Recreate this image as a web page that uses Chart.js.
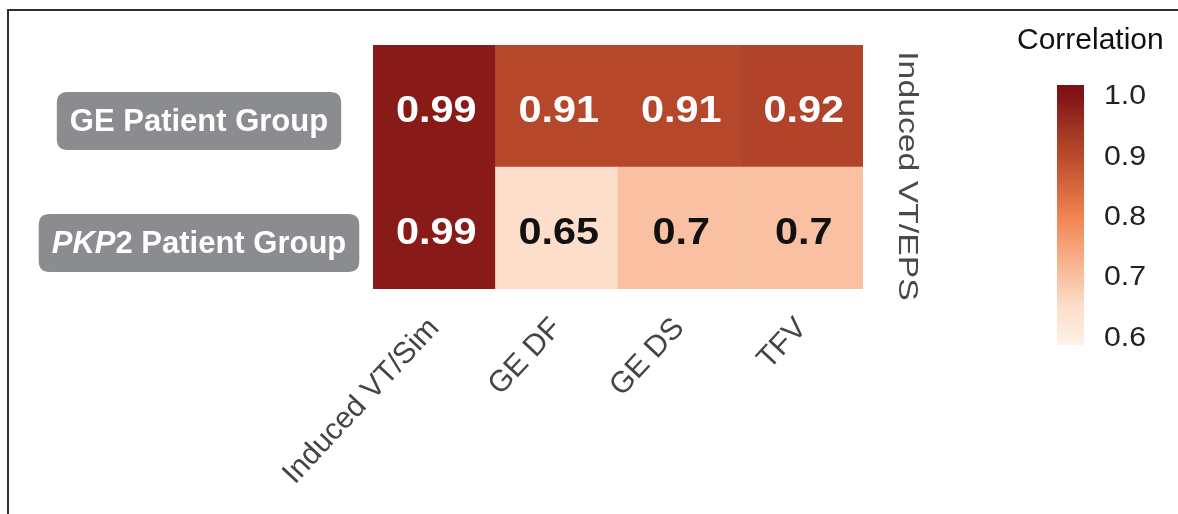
<!DOCTYPE html>
<html>
<head>
<meta charset="utf-8">
<script src="https://cdn.jsdelivr.net/npm/chart.js@4.4.1/dist/chart.umd.min.js"></script>
<style>
  html, body { margin: 0; padding: 0; background: #ffffff; }
  #wrap { position: relative; width: 1178px; height: 514px; }
  canvas { display: block; }
</style>
</head>
<body>
<div id="wrap"><canvas id="c" width="1178" height="514"></canvas></div>
<script>
// ---------- DATA ----------
const categories = ['Induced VT/Sim', 'GE DF', 'GE DS', 'TFV'];
const groups = ['GE Patient Group', 'PKP2 Patient Group'];
const geValues = [0.99, 0.91, 0.91, 0.92];
const pkp2Values = [0.99, 0.65, 0.7, 0.7];
const legendTicks = [0.6, 0.7, 0.8, 0.9, 1.0];
const legendTitle = 'Correlation';
const rightAxisLabel = 'Induced VT/EPS';

// ---------- STYLE ----------
const FONT = "'Liberation Sans', Arial, Helvetica, sans-serif";
const colorStops = [
  [0.585, [254, 243, 234]],
  [0.60,  [253, 237, 225]],
  [0.65,  [252, 222, 202]],
  [0.70,  [249, 193, 162]],
  [0.80,  [241, 131, 80]],
  [0.90,  [186, 74, 43]],
  [0.92,  [176, 67, 41]],
  [1.00,  [130, 20, 22]],
  [1.02,  [122, 17, 20]]
];
function colorFor(v) {
  if (v <= colorStops[0][0]) return 'rgb(' + colorStops[0][1].join(',') + ')';
  for (let i = 1; i < colorStops.length; i++) {
    const [v1, c1] = colorStops[i];
    const [v0, c0] = colorStops[i - 1];
    if (v <= v1) {
      const t = (v - v0) / (v1 - v0);
      const c = c0.map((a, k) => Math.round(a + (c1[k] - a) * t));
      return 'rgb(' + c.join(',') + ')';
    }
  }
  return 'rgb(' + colorStops[colorStops.length - 1][1].join(',') + ')';
}

function drawText(ctx, s, x, y, font, color, align, sx, baseline) {
  ctx.save();
  ctx.translate(x, y);
  ctx.scale(sx || 1, 1);
  ctx.font = font;
  ctx.fillStyle = color;
  ctx.textAlign = align || 'center';
  ctx.textBaseline = baseline || 'middle';
  ctx.fillText(s, 0, 0);
  ctx.restore();
}

function roundRect(ctx, x, y, w, h, r) {
  ctx.beginPath();
  ctx.moveTo(x + r, y);
  ctx.lineTo(x + w - r, y);
  ctx.quadraticCurveTo(x + w, y, x + w, y + r);
  ctx.lineTo(x + w, y + h - r);
  ctx.quadraticCurveTo(x + w, y + h, x + w - r, y + h);
  ctx.lineTo(x + r, y + h);
  ctx.quadraticCurveTo(x, y + h, x, y + h - r);
  ctx.lineTo(x, y + r);
  ctx.quadraticCurveTo(x, y, x + r, y);
  ctx.closePath();
}

const decorPlugin = {
  id: 'decor',
  afterDatasetsDraw(chart) {
    const ctx = chart.ctx;
    chart.data.datasets.forEach((ds, di) => {
      const meta = chart.getDatasetMeta(di);
      meta.data.forEach((el, i) => {
        const v = ds.values[i];
        const cy = (el.y + el.base) / 2 + 6;
        drawText(ctx, String(v), el.x + 2, cy, 'bold 37px ' + FONT,
          v > 0.8 ? '#ffffff' : '#111111', 'center', 1.12);
      });
    });
  },
  afterDraw(chart) {
    const ctx = chart.ctx;
    const area = chart.chartArea;
    const yScale = chart.scales.y;

    // row labels (grey rounded boxes)
    const rows = [
      { parts: [['GE', false], [' Patient Group', false]], center: 1.5 },
      { parts: [['PKP', true], ['2 Patient Group', false]], center: 0.5 }
    ];
    const rowFont = 31;
    rows.forEach((r) => {
      const cy = yScale.getPixelForValue(r.center) + 15;
      ctx.save();
      let w = 0;
      r.parts.forEach(([s, it]) => {
        ctx.font = (it ? 'italic ' : '') + 'bold ' + rowFont + 'px ' + FONT;
        w += ctx.measureText(s).width;
      });
      const boxW = w + 26, boxH = 58;
      const cx = 199;
      roundRect(ctx, cx - boxW / 2, cy - boxH / 2, boxW, boxH, 11);
      ctx.fillStyle = '#8b8c90';
      ctx.fill();
      let x = cx - w / 2;
      r.parts.forEach(([s, it]) => {
        ctx.font = (it ? 'italic ' : '') + 'bold ' + rowFont + 'px ' + FONT;
        ctx.fillStyle = '#ffffff';
        ctx.textAlign = 'left';
        ctx.textBaseline = 'middle';
        ctx.fillText(s, x, cy + 1);
        x += ctx.measureText(s).width;
      });
      ctx.restore();
    });

    // right axis label (rotated)
    ctx.save();
    ctx.translate(area.right + 43, (area.top + area.bottom) / 2 + 9);
    ctx.rotate(Math.PI / 2);
    ctx.scale(1.25, 1);
    ctx.font = '27px ' + FONT;
    ctx.fillStyle = '#4a4a4a';
    ctx.textAlign = 'center';
    ctx.textBaseline = 'middle';
    ctx.fillText(rightAxisLabel, 0, 0);
    ctx.restore();

    // legend
    drawText(ctx, legendTitle, 1017, 41, '30px ' + FONT, '#111111', 'left', 1.0);
    const cbX = 1057, cbW = 27, cbTop = 85, cbBot = 345;
    const vTop = 1.018, vBot = 0.587;
    const grad = ctx.createLinearGradient(0, cbBot, 0, cbTop);
    for (let k = 0; k <= 40; k++) {
      const t = k / 40;
      grad.addColorStop(t, colorFor(vBot + (vTop - vBot) * t));
    }
    ctx.fillStyle = grad;
    ctx.fillRect(cbX, cbTop, cbW, cbBot - cbTop);
    legendTicks.forEach(v => {
      const y = cbBot - (v - vBot) / (vTop - vBot) * (cbBot - cbTop);
      drawText(ctx, v.toFixed(1), 1104, y + 1, '27px ' + FONT, '#222222', 'left', 1.12);
    });

    // outer frame (top + left)
    ctx.save();
    ctx.strokeStyle = '#2e2e2e';
    ctx.lineWidth = 2;
    ctx.beginPath();
    ctx.moveTo(8, 514);
    ctx.lineTo(8, 10);
    ctx.lineTo(1178, 10);
    ctx.stroke();
    ctx.restore();
  }
};

new Chart(document.getElementById('c'), {
  type: 'bar',
  data: {
    labels: categories,
    datasets: [
      { label: groups[1], values: pkp2Values, data: pkp2Values.map(() => 1),
        backgroundColor: pkp2Values.map(colorFor), stack: 's' },
      { label: groups[0], values: geValues, data: geValues.map(() => 1),
        backgroundColor: geValues.map(colorFor), stack: 's' }
    ]
  },
  options: {
    responsive: false,
    animation: false,
    devicePixelRatio: 1,
    layout: { padding: { left: 373, right: 315, top: 45, bottom: 0 } },
    datasets: { bar: { barPercentage: 1, categoryPercentage: 1, borderWidth: 0 } },
    plugins: { legend: { display: false }, tooltip: { enabled: false } },
    scales: {
      x: {
        stacked: true,
        grid: { display: false, drawTicks: false },
        border: { display: false },
        ticks: {
          autoSkip: false, minRotation: 47, maxRotation: 47, padding: 22,
          color: '#444444', font: { family: FONT, size: 30 }
        },
        afterFit(scale) { scale.height = 225; }
      },
      y: { stacked: true, display: false, min: 0, max: 2 }
    }
  },
  plugins: [decorPlugin]
});
</script>
</body>
</html>
